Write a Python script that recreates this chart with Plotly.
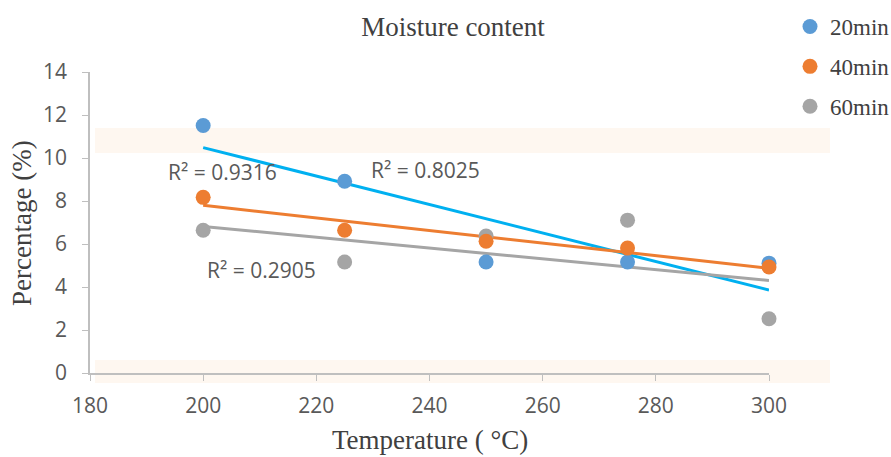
import numpy as np
import plotly.graph_objects as go

# Drying temperature (°C) and moisture content (%) for each drying time
temperature = [200, 225, 250, 275, 300]
moisture_20min = [11.51, 8.92, 5.16, 5.16, 5.11]
moisture_40min = [8.17, 6.64, 6.13, 5.81, 4.93]
moisture_60min = [6.64, 5.16, 6.37, 7.11, 2.52]

series_names = ["20min", "40min", "60min"]
marker_colors = ["#5b9bd5", "#ed7d31", "#a5a5a5"]
trend_colors = ["#00b0f0", "#ed7d31", "#a5a5a5"]
r2_labels = ["R² = 0.9316", "R² = 0.8025", "R² = 0.2905"]

x_ticks = [180, 200, 220, 240, 260, 280, 300]
y_ticks = [0, 2, 4, 6, 8, 10, 12, 14]

W, H = 891, 457
M_L, M_R, M_T, M_B = 90, 122, 72, 84

serif = "Liberation Serif, Times New Roman, serif"
sans = "Open Sans, Lato, sans-serif"

fig = go.Figure()

series = [moisture_20min, moisture_40min, moisture_60min]
x = np.array(temperature, dtype=float)

# Linear trendlines fitted to each series
for vals, col in zip(series, trend_colors):
    slope, icpt = np.polyfit(x, np.array(vals), 1)
    xs = [x.min(), x.max()]
    fig.add_trace(go.Scatter(
        x=xs, y=[slope * v + icpt for v in xs], mode="lines",
        line=dict(color=col, width=3), showlegend=False, hoverinfo="skip",
        cliponaxis=False))

# Markers: gray first, then blue, orange on top
draw_order = [2, 0, 1]
for i in draw_order:
    fig.add_trace(go.Scatter(
        x=temperature, y=series[i], mode="markers", name=series_names[i],
        legendrank=i + 1, legendgroup=series_names[i], cliponaxis=False,
        marker=dict(color=marker_colors[i], size=15, line=dict(width=0))))

axis_color = "#bfbfbf"
tick_font = dict(family=sans, size=21, color="#595959")

fig.update_xaxes(
    range=[180, 300], tickvals=x_ticks, ticks="outside", ticklen=6,
    tickcolor=axis_color, showline=True, linecolor=axis_color, linewidth=1.5,
    showgrid=False, zeroline=False, tickfont=tick_font, ticklabelstandoff=7)
fig.update_yaxes(
    range=[0, 14], tickvals=y_ticks, ticks="outside", ticklen=6,
    tickcolor=axis_color, showline=True, linecolor=axis_color, linewidth=1.5,
    showgrid=False, zeroline=False, tickfont=tick_font, ticklabelstandoff=11)

pw = W - M_L - M_R
ph = H - M_T - M_B


def px_x(p):
    return (p - M_L) / pw


def px_y(p):
    return 1 - (p - M_T) / ph


# Faint horizontal background bands
shapes = []
for y0, y1 in [(128, 153), (360, 383)]:
    shapes.append(dict(type="rect", xref="paper", yref="paper",
                       x0=px_x(95), x1=px_x(830), y0=px_y(y1), y1=px_y(y0),
                       fillcolor="#fef7f0", line=dict(width=0), layer="below"))

annotations = []

# R² labels
r2_pos = [(222, 172), (425, 170), (261, 270)]
for txt, (cx, cy) in zip(r2_labels, r2_pos):
    annotations.append(dict(
        text=txt, xref="paper", yref="paper", x=px_x(cx), y=px_y(cy),
        xanchor="center", yanchor="middle", showarrow=False,
        font=dict(family=sans, size=21, color="#595959")))

# Axis titles
annotations.append(dict(
    text="Temperature ( °C)", xref="paper", yref="paper",
    x=px_x(430), y=px_y(440), xanchor="center", yanchor="middle",
    showarrow=False, font=dict(family=serif, size=27, color="#404040")))
annotations.append(dict(
    text="Percentage (%)", xref="paper", yref="paper", textangle=-90,
    x=px_x(22), y=px_y(223), xanchor="center", yanchor="middle",
    showarrow=False, font=dict(family=serif, size=27, color="#404040")))

fig.update_layout(
    width=W, height=H,
    margin=dict(l=M_L, r=M_R, t=M_T, b=M_B, autoexpand=False),
    paper_bgcolor="white", plot_bgcolor="rgba(0,0,0,0)",
    title=dict(text="Moisture content", x=453 / W, xref="container",
               xanchor="center", y=1 - 27 / H, yref="container",
               yanchor="middle",
               font=dict(family=serif, size=27, color="#404040")),
    legend=dict(x=790 / W, xref="container", y=1 - 5 / H, yref="container",
                xanchor="left", yanchor="top", traceorder="grouped",
                tracegroupgap=7, itemwidth=30,
                font=dict(family=serif, size=23, color="#404040"),
                bgcolor="rgba(0,0,0,0)"),
    shapes=shapes, annotations=annotations)

fig.write_html("out.html")
